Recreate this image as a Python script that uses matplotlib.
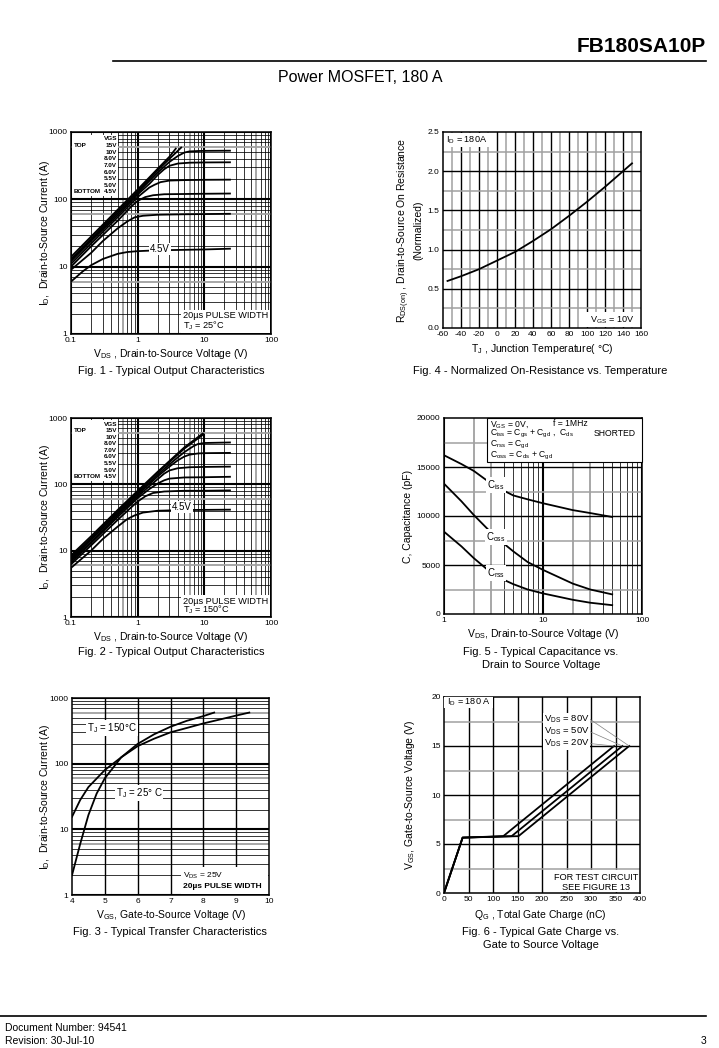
import matplotlib
matplotlib.use('Agg')
import matplotlib.pyplot as plt
from matplotlib.patches import Rectangle
from matplotlib.ticker import FixedLocator, NullLocator

plt.rcParams['font.family'] = ['Liberation Sans', 'DejaVu Sans']
plt.rcParams['mathtext.fontset'] = 'custom'
plt.rcParams['mathtext.rm'] = 'Liberation Sans'
plt.rcParams['mathtext.it'] = 'Liberation Sans:italic'
plt.rcParams['mathtext.bf'] = 'Liberation Sans:bold'

# ---------------- DATA ----------------
vgs_labels = ['15V', '10V', '8.0V', '7.0V', '6.0V', '5.5V', '5.0V', '4.5V']

# Fig 1 (TJ = 25 C)
f1_vds = [
    [0.1, 0.2, 0.5, 1, 2, 3, 3.8],
    [0.1, 0.2, 0.5, 1, 2, 3, 4.6],
    [0.1, 0.2, 0.5, 1, 2, 3, 4, 5, 6, 8, 10, 25],
    [0.1, 0.2, 0.5, 1, 1.5, 2, 2.5, 3, 4, 6, 10, 25],
    [0.1, 0.2, 0.5, 1, 1.5, 1.8, 2.2, 3, 5, 10, 25],
    [0.1, 0.2, 0.5, 0.8, 1, 1.3, 1.7, 2.5, 5, 10, 25],
    [0.1, 0.2, 0.3, 0.5, 0.7, 0.9, 1.2, 2, 5, 25],
    [0.1, 0.15, 0.2, 0.3, 0.5, 0.7, 1, 2, 10, 25],
]
f1_id = [
    [14, 28, 70, 140, 285, 430, 580],
    [13, 26, 66, 132, 270, 400, 600],
    [12.5, 25, 62, 125, 250, 360, 440, 495, 515, 522, 525, 528],
    [12, 24, 58, 118, 170, 230, 280, 315, 340, 350, 353, 355],
    [11, 22, 54, 108, 150, 165, 180, 190, 193, 195, 196],
    [10, 20, 48, 78, 95, 108, 115, 119, 120, 121, 122],
    [9, 16, 24, 37, 47, 54, 57, 59, 60, 61],
    [6, 8.5, 10.5, 13, 15.5, 16.5, 17, 17.5, 18, 18.5],
]

# Fig 2 (TJ = 150 C)
f2_vds = [
    [0.1, 0.2, 0.5, 1, 2, 5, 9.6],
    [0.1, 0.2, 0.5, 1, 2, 5, 10],
    [0.1, 0.2, 0.5, 1, 2, 3, 4, 5, 6, 7, 8, 10, 25],
    [0.1, 0.2, 0.5, 1, 2, 3, 4, 5, 6, 8, 10, 25],
    [0.1, 0.2, 0.5, 1, 2, 2.5, 3, 4, 6, 10, 25],
    [0.1, 0.2, 0.5, 1, 1.5, 2, 2.5, 3, 5, 10, 25],
    [0.1, 0.2, 0.5, 0.8, 1, 1.3, 1.7, 2.5, 5, 10, 25],
    [0.1, 0.2, 0.3, 0.5, 0.7, 0.9, 1.2, 2, 5, 25],
]
f2_id = [
    [8.5, 16.5, 41, 80, 155, 360, 590],
    [8, 15.5, 39, 77, 150, 345, 580],
    [7.6, 15, 37, 73, 140, 200, 255, 305, 345, 380, 405, 420, 428],
    [7.3, 14.5, 36, 70, 132, 185, 230, 262, 280, 292, 295, 298],
    [7, 13.5, 34, 66, 120, 145, 162, 175, 181, 183, 185],
    [6.6, 13, 32, 62, 85, 103, 115, 122, 127, 128, 130],
    [6.2, 12, 29, 45, 55, 66, 74, 78, 80, 80, 81],
    [5.5, 10, 15, 23, 30, 34, 37.5, 40, 41, 41.5],
]

# Fig 3 transfer characteristics
f3_vgs_25 = [4.0, 4.25, 4.5, 4.75, 5.0, 5.5, 6.0, 6.5, 7.0, 7.5, 8.0, 8.33]
f3_id_25 = [2, 6, 16.5, 35, 60, 125, 200, 280, 365, 450, 530, 600]
f3_vgs_150 = [4.0, 4.25, 4.5, 5.0, 5.5, 6.0, 6.5, 7.0, 7.5, 8.0, 8.5, 9.0, 9.4]
f3_id_150 = [15.5, 28, 44, 80, 125, 185, 240, 300, 350, 410, 470, 540, 600]

# Fig 4 normalized Rds(on)
f4_tj = [-55, -40, -20, 0, 20, 40, 60, 80, 100, 120, 140, 150]
f4_r = [0.60, 0.66, 0.75, 0.86, 0.97, 1.11, 1.26, 1.43, 1.61, 1.80, 2.00, 2.10]

# Fig 5 capacitance
f5_vds = [1, 1.5, 2, 3, 4, 5, 7, 10, 20, 30, 50]
f5_ciss = [16200, 15300, 14600, 13300, 12600, 12100, 11700, 11300, 10600, 10300, 9900]
f5_coss = [13300, 11500, 10100, 8300, 7200, 6400, 5300, 4500, 3100, 2500, 2000]
f5_crss = [8400, 6900, 5700, 4200, 3500, 3050, 2500, 2100, 1450, 1150, 900]

# Fig 6 gate charge
f6_labels = ['20V', '50V', '80V']
f6_q = [[0, 38, 121, 347], [0, 38, 138, 364], [0, 38, 152, 378]]
f6_v = [[0, 5.65, 5.8, 15], [0, 5.65, 5.8, 15], [0, 5.65, 5.8, 15]]

# ---------------- FIGURE ----------------
W, H = 719, 1048
fig = plt.figure(figsize=(W / 100, H / 100), dpi=100)


def P(x, y):
    return (x / W, 1 - y / H)


def add_ax(x0, y0, x1, y1):
    ax = fig.add_axes([x0 / W, 1 - y1 / H, (x1 - x0) / W, (y1 - y0) / H])
    for s in ax.spines.values():
        s.set_linewidth(1.1)
        s.set_zorder(5)
    ax.tick_params(length=0, labelsize=6, pad=2.5)
    return ax


def T(x, y, s, size=7.5, ha='left', va='center', box=False, **kw):
    bb = dict(facecolor='white', edgecolor='none', pad=0.6) if box else None
    return fig.text(x / W, 1 - y / H, s, fontsize=size, ha=ha, va=va, bbox=bb, **kw)


def white(x0, y0, x1, y1, edge='none'):
    r = Rectangle((x0 / W, 1 - y1 / H), (x1 - x0) / W, (y1 - y0) / H,
                  transform=fig.transFigure, facecolor='white', edgecolor=edge,
                  lw=0.8, zorder=1)
    fig.add_artist(r)


def log_grid(ax, axis, lo, hi, gray=(6,)):
    f = ax.axvline if axis == 'x' else ax.axhline
    for d in range(lo, hi):
        for m in range(2, 10):
            v = m * 10 ** d
            if m in gray:
                f(v, color='#a0a0a0', lw=1.3, zorder=1)
            else:
                f(v, color='black', lw=0.55, zorder=1)
    for d in range(lo, hi + 1):
        f(10 ** d, color='black', lw=1.5, zorder=1)


def lin_grid(ax, axis, blacks, grays):
    f = ax.axvline if axis == 'x' else ax.axhline
    for v in grays:
        f(v, color='#a0a0a0', lw=1.1, zorder=1)
    for v in blacks:
        f(v, color='black', lw=1.0, zorder=1)


def output_chart(ax, vds, ids):
    ax.set_xscale('log')
    ax.set_yscale('log')
    ax.set_xlim(0.1, 100)
    ax.set_ylim(1, 1000)
    log_grid(ax, 'x', -1, 2)
    log_grid(ax, 'y', 0, 3)
    for x, y in zip(vds, ids):
        ax.plot(x, y, color='black', lw=1.3, zorder=3, solid_capstyle='butt')
    ax.xaxis.set_major_locator(FixedLocator([0.1, 1, 10, 100]))
    ax.set_xticklabels(['0.1', '1', '10', '100'])
    ax.yaxis.set_major_locator(FixedLocator([1, 10, 100, 1000]))
    ax.set_yticklabels(['1', '10', '100', '1000'])
    ax.xaxis.set_minor_locator(NullLocator())
    ax.yaxis.set_minor_locator(NullLocator())


VDS = r'$\mathregular{V_{DS}}$'
VGS = r'$\mathregular{V_{GS}}$'

# Header / footer
T(706, 47, 'FB180SA10P', size=15, ha='right', weight='bold')
fig.add_artist(plt.Line2D([113 / W, 706 / W], [1 - 61 / H, 1 - 61 / H],
                          transform=fig.transFigure, color='black', lw=1.2))
T(360, 77, 'Power MOSFET, 180 A', size=11.5, ha='center')
fig.add_artist(plt.Line2D([0, 706 / W], [1 - 1016 / H, 1 - 1016 / H],
                          transform=fig.transFigure, color='black', lw=1.2))
T(5, 1028, 'Document Number: 94541', size=7.5)
T(5, 1041, 'Revision: 30-Jul-10', size=7.5)
T(706, 1041, '3', size=7.5, ha='right')

# ---------- Fig 1 ----------
ax1 = add_ax(71, 132, 271, 334)
output_chart(ax1, f1_vds, f1_id)
T(45, 233, r'$\mathregular{I_D}$,  Drain-to-Source Current (A)', size=7.5,
  ha='center', rotation=90)
T(171, 354, VDS + ' , Drain-to-Source Voltage (V)', size=7.5, ha='center')
T(171, 371, 'Fig. 1 - Typical Output Characteristics', size=8, ha='center')
white(72, 135, 118, 196)
rows1 = [139 + 6.6 * i for i in range(9)]
T(117, rows1[0], 'VGS', size=4.6, ha='right', weight='bold')
for i, lab in enumerate(vgs_labels):
    T(117, rows1[i + 1], lab, size=4.6, ha='right', weight='bold')
T(74, rows1[1], 'TOP', size=4.6, weight='bold')
T(74, rows1[8], 'BOTTOM', size=4.6, weight='bold')
T(160, 249, '4.5V', size=7, ha='center', box=True)
white(181, 310, 270, 333)
T(183, 316, '20µs PULSE WIDTH', size=6.6)
T(183, 326, r'$\mathregular{T_J}$ = 25°C', size=6.6)

# ---------- Fig 2 ----------
ax2 = add_ax(71, 418, 271, 617)
output_chart(ax2, f2_vds, f2_id)
T(45, 517, r'$\mathregular{I_D}$,  Drain-to-Source Current (A)', size=7.5,
  ha='center', rotation=90)
T(171, 637, VDS + ' , Drain-to-Source Voltage (V)', size=7.5, ha='center')
T(171, 652, 'Fig. 2 - Typical Output Characteristics', size=8, ha='center')
white(72, 420, 118, 481)
rows2 = [424 + 6.6 * i for i in range(9)]
T(117, rows2[0], 'VGS', size=4.6, ha='right', weight='bold')
for i, lab in enumerate(vgs_labels):
    T(117, rows2[i + 1], lab, size=4.6, ha='right', weight='bold')
T(74, rows2[1], 'TOP', size=4.6, weight='bold')
T(74, rows2[8], 'BOTTOM', size=4.6, weight='bold')
T(182, 507, '4.5V', size=7, ha='center', box=True)
white(181, 595, 270, 616)
T(183, 601, '20µs PULSE WIDTH', size=6.6)
T(183, 610, r'$\mathregular{T_J}$ = 150°C', size=6.6)

# ---------- Fig 3 ----------
ax3 = add_ax(72, 698, 269, 895)
ax3.set_yscale('log')
ax3.set_xlim(4, 10)
ax3.set_ylim(1, 1000)
log_grid(ax3, 'y', 0, 3)
lin_grid(ax3, 'x', [5, 6, 7, 8, 9], [])
ax3.plot(f3_vgs_25, f3_id_25, color='black', lw=1.3, zorder=3)
ax3.plot(f3_vgs_150, f3_id_150, color='black', lw=1.3, zorder=3)
ax3.xaxis.set_major_locator(FixedLocator([4, 5, 6, 7, 8, 9, 10]))
ax3.set_xticklabels(['4', '5', '6', '7', '8', '9', '10'])
ax3.yaxis.set_major_locator(FixedLocator([1, 10, 100, 1000]))
ax3.set_yticklabels(['1', '10', '100', '1000'])
ax3.yaxis.set_minor_locator(NullLocator())
T(45, 797, r'$\mathregular{I_D}$,  Drain-to-Source Current (A)', size=7.5,
  ha='center', rotation=90)
T(171, 915, VGS + ', Gate-to-Source Voltage (V)', size=7.5, ha='center')
T(170, 932, 'Fig. 3 - Typical Transfer Characteristics', size=8, ha='center')
T(112, 728, r'$\mathregular{T_J}$ = 150°C', size=7, ha='center', box=True)
T(139, 793, r'$\mathregular{T_J}$ = 25° C', size=7, ha='center', box=True)
white(181, 867, 268, 894)
T(183, 876, VDS + ' = 25V', size=6)
T(183, 886, '20µs PULSE WIDTH', size=6, weight='bold')

# ---------- Fig 4 ----------
ax4 = add_ax(443, 132, 641, 328)
ax4.set_xlim(-60, 160)
ax4.set_ylim(0, 2.5)
lin_grid(ax4, 'x', [-40, -20, 0, 20, 40, 60, 80, 100, 120, 140],
         [-50, -30, -10, 10, 30, 50, 70, 90, 110, 130, 150])
lin_grid(ax4, 'y', [0.5, 1.0, 1.5, 2.0], [0.25, 0.75, 1.25, 1.75, 2.25])
ax4.plot(f4_tj, f4_r, color='black', lw=1.3, zorder=3)
ax4.xaxis.set_major_locator(FixedLocator(list(range(-60, 161, 20))))
ax4.set_xticklabels([str(v) for v in range(-60, 161, 20)])
ax4.yaxis.set_major_locator(FixedLocator([0, 0.5, 1.0, 1.5, 2.0, 2.5]))
ax4.set_yticklabels(['0.0', '0.5', '1.0', '1.5', '2.0', '2.5'])
T(404, 230, r'$\mathregular{R_{DS(on)}}$ , Drain-to-Source On Resistance',
  size=7.5, ha='center', rotation=90)
T(418, 230, '(Normalized)', size=7.5, ha='center', rotation=90)
T(542, 349, r'$\mathregular{T_J}$ , Junction Temperature( °C)', size=7.5, ha='center')
T(540, 371, 'Fig. 4 - Normalized On-Resistance vs. Temperature', size=8, ha='center')
white(444, 133, 491, 147)
T(446, 140, r'$\mathregular{I_D}$ = 180A', size=6.6)
white(586, 312, 640, 327)
T(590, 320, r'$\mathregular{V_{GS}}$ = 10V', size=6.6)

# ---------- Fig 5 ----------
ax5 = add_ax(444, 418, 642, 614)
ax5.set_xscale('log')
ax5.set_xlim(1, 100)
ax5.set_ylim(0, 20000)
log_grid(ax5, 'x', 0, 2, gray=(2, 3))
lin_grid(ax5, 'y', [5000, 10000, 15000], [2500, 7500, 12500, 17500])
for ys in (f5_ciss, f5_coss, f5_crss):
    ax5.plot(f5_vds, ys, color='black', lw=1.3, zorder=3)
ax5.xaxis.set_major_locator(FixedLocator([1, 10, 100]))
ax5.set_xticklabels(['1', '10', '100'])
ax5.xaxis.set_minor_locator(NullLocator())
ax5.yaxis.set_major_locator(FixedLocator([0, 5000, 10000, 15000, 20000]))
ax5.set_yticklabels(['0', '5000', '10000', '15000', '20000'])
T(408, 516, 'C, Capacitance (pF)', size=7.5, ha='center', rotation=90)
T(543, 634, VDS + ', Drain-to-Source Voltage (V)', size=7.5, ha='center')
T(541, 652, 'Fig. 5 - Typical Capacitance vs.', size=8, ha='center')
T(541, 665, 'Drain to Source Voltage', size=8, ha='center')
white(487, 418, 642, 462, edge='black')
LS = 6.2
T(490, 426, r'$\mathregular{V_{GS}}$ = 0V,', size=LS, va='baseline')
T(553, 426, 'f = 1MHz', size=LS, va='baseline')
T(490, 436, r'$\mathregular{C_{iss}}$ = $\mathregular{C_{gs}}$ + $\mathregular{C_{gd}}$ ,  $\mathregular{C_{ds}}$',
  size=LS, va='baseline')
T(594, 436, 'SHORTED', size=LS, va='baseline')
T(490, 446.5, r'$\mathregular{C_{rss}}$ = $\mathregular{C_{gd}}$', size=LS, va='baseline')
T(490, 457.5, r'$\mathregular{C_{oss}}$ = $\mathregular{C_{ds}}$ + $\mathregular{C_{gd}}$', size=LS,
  va='baseline')
T(496, 485, r'$\mathregular{C_{iss}}$', size=7, ha='center', box=True)
T(496, 537, r'$\mathregular{C_{oss}}$', size=7, ha='center', box=True)
T(496, 573, r'$\mathregular{C_{rss}}$', size=7, ha='center', box=True)

# ---------- Fig 6 ----------
ax6 = add_ax(444, 697, 640, 893)
ax6.set_xlim(0, 400)
ax6.set_ylim(0, 20)
lin_grid(ax6, 'x', [50, 100, 150, 200, 250, 300, 350], [])
lin_grid(ax6, 'y', [5, 10, 15], [2.5, 7.5, 12.5, 17.5])
for q, v in zip(f6_q, f6_v):
    ax6.plot(q, v, color='black', lw=1.3, zorder=3)
ax6.xaxis.set_major_locator(FixedLocator(list(range(0, 401, 50))))
ax6.set_xticklabels([str(v) for v in range(0, 401, 50)])
ax6.yaxis.set_major_locator(FixedLocator([0, 5, 10, 15, 20]))
ax6.set_yticklabels(['0', '5', '10', '15', '20'])
T(410, 795, VGS + ', Gate-to-Source Voltage (V)', size=7.5, ha='center', rotation=90)
T(540, 915, r'$\mathregular{Q_G}$ , Total Gate Charge (nC)', size=7.5, ha='center')
T(541, 932, 'Fig. 6 - Typical Gate Charge vs.', size=8, ha='center')
T(541, 945, 'Gate to Source Voltage', size=8, ha='center')
white(444, 697, 493, 708)
T(447, 702, r'$\mathregular{I_D}$ = 180 A', size=6.6)
label_y = {'80V': 719, '50V': 731.5, '20V': 743.5}
for i, lab in enumerate(f6_labels):
    ax6.annotate(VDS + ' = ' + lab, xy=(f6_q[i][-1], f6_v[i][-1]),
                 xytext=P(544, label_y[lab]), textcoords='figure fraction',
                 fontsize=6.8, va='center', ha='left',
                 bbox=dict(facecolor='white', edgecolor='none', pad=0.4),
                 arrowprops=dict(arrowstyle='-', color='#808080', lw=0.5,
                                 relpos=(1, 0.5), shrinkA=0, shrinkB=0),
                 zorder=6, annotation_clip=False)
white(548, 870, 639, 892)
T(596, 877, 'FOR TEST CIRCUIT', size=6.6, ha='center')
T(596, 887, 'SEE FIGURE 13', size=6.6, ha='center')

fig.savefig('out.png', dpi=100)
